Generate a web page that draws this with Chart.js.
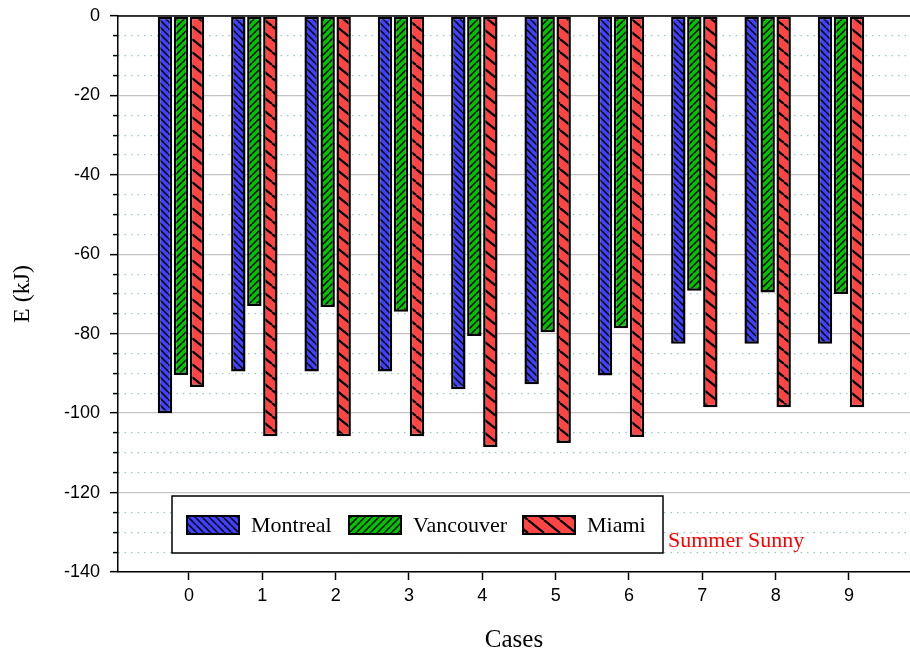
<!DOCTYPE html>
<html>
<head>
<meta charset="utf-8">
<script src="https://cdn.jsdelivr.net/npm/chart.js@4.4.1/dist/chart.umd.min.js"></script>
<style>
  html, body { margin: 0; padding: 0; background: #fff; }
</style>
</head>
<body>
<canvas id="myChart" width="910" height="657"></canvas>
<script>
var cases = [0, 1, 2, 3, 4, 5, 6, 7, 8, 9];
var montreal = [-100, -89.5, -89.5, -89.5, -94, -92.7, -90.5, -82.5, -82.5, -82.5];
var vancouver = [-90.4, -73, -73.3, -74.5, -80.6, -79.6, -78.6, -69.2, -69.6, -70];
var miami = [-93.4, -105.8, -105.8, -105.8, -108.5, -107.5, -106, -98.5, -98.5, -98.5];
var seriesNames = ['Montreal', 'Vancouver', 'Miami'];
var yTicks = [0, -20, -40, -60, -80, -100, -120, -140];

var canvas = document.getElementById('myChart');
var ctx = canvas.getContext('2d');

// hatched fills, like the origin-style bars
function makePattern(fill, w, h, dir, lw) {
    var c = document.createElement('canvas');
    c.width = w;
    c.height = h;
    var g = c.getContext('2d');
    g.fillStyle = fill;
    g.fillRect(0, 0, w, h);
    g.strokeStyle = '#000';
    g.lineWidth = lw;
    g.beginPath();
    for (var k = -1; k <= 1; k++) {
        if (dir === 'back') {
            g.moveTo(k * w, 0);
            g.lineTo(k * w + w, h);
        } else {
            g.moveTo(k * w, h);
            g.lineTo(k * w + w, 0);
        }
    }
    g.stroke();
    return ctx.createPattern(c, 'repeat');
}

var patterns = [
    makePattern('#4040ff', 7, 7, 'back', 1.5),
    makePattern('#00c400', 7, 7, 'fwd', 1.5),
    makePattern('#ff4444', 16, 13, 'back', 2.2)
];

function points(vals) {
    return cases.map(function (c, i) { return { x: c, y: vals[i] }; });
}

var series = [montreal, vancouver, miami];
var datasets = series.map(function (vals, i) {
    return {
        label: seriesNames[i],
        data: points(vals),
        backgroundColor: patterns[i],
        borderColor: '#000',
        borderWidth: 2.5,
        borderSkipped: false,
        xAxisID: 'x',
        yAxisID: 'y',
        categoryPercentage: 0.655,
        barPercentage: 0.9
    };
});

var frameAndLegend = {
    id: 'frameAndLegend',
    afterDraw: function (chart) {
        var c = chart.ctx;
        var a = chart.chartArea;
        c.save();
        // top frame line
        c.strokeStyle = '#000';
        c.lineWidth = 1.5;
        c.beginPath();
        c.moveTo(a.left, a.top);
        c.lineTo(a.right, a.top);
        c.stroke();

        // legend box
        var bx = 172, by = 496, bw = 491, bh = 57;
        c.fillStyle = '#fff';
        c.fillRect(bx, by, bw, bh);
        c.lineWidth = 1.5;
        c.strokeRect(bx, by, bw, bh);

        var swatchX = [187, 349, 523];
        c.font = '22px "Liberation Serif"';
        c.textBaseline = 'middle';
        c.textAlign = 'left';
        chart.data.datasets.forEach(function (ds, i) {
            c.fillStyle = ds.backgroundColor;
            c.fillRect(swatchX[i], 516, 52, 18);
            c.lineWidth = 2;
            c.strokeStyle = '#000';
            c.strokeRect(swatchX[i], 516, 52, 18);
            c.fillStyle = '#000';
            c.fillText(ds.label, swatchX[i] + 64, 526);
        });

        c.fillStyle = '#ff0000';
        c.textBaseline = 'alphabetic';
        c.fillText('Summer Sunny', 668, 547);
        c.restore();
    }
};

var myChart = new Chart(ctx, {
    type: 'bar',
    data: { datasets: datasets },
    options: {
        responsive: false,
        animation: false,
        layout: { padding: { top: 16, left: 0, right: 0, bottom: 0 } },
        plugins: {
            legend: { display: false },
            tooltip: { enabled: false }
        },
        scales: {
            x: {
                type: 'linear',
                display: false,
                offset: false,
                grid: { offset: false },
                min: -0.859,
                max: 9.941,
                ticks: { stepSize: 1, includeBounds: false }
            },
            xt: {
                type: 'linear',
                position: 'bottom',
                offset: false,
                min: -0.968,
                max: 9.832,
                ticks: {
                    stepSize: 1,
                    includeBounds: false,
                    color: '#000',
                    padding: 5,
                    font: { family: 'Liberation Sans', size: 18 }
                },
                grid: {
                    offset: false,
                    drawOnChartArea: false,
                    tickLength: 8,
                    tickColor: '#000',
                    tickWidth: 1.5
                },
                border: { color: '#000', width: 1.5 },
                title: {
                    display: true,
                    text: 'Cases',
                    color: '#000',
                    font: { family: 'Liberation Serif', size: 25 },
                    padding: { top: 0, bottom: 2 }
                },
                afterFit: function (s) { s.height = 85; }
            },
            y: {
                type: 'linear',
                position: 'left',
                weight: 0,
                min: -140,
                max: 0,
                afterBuildTicks: function (s) {
                    s.ticks = yTicks.map(function (v) { return { value: v }; });
                },
                ticks: {
                    color: '#000',
                    padding: 10,
                    font: { family: 'Liberation Sans', size: 18 }
                },
                grid: {
                    color: '#c4c4c4',
                    lineWidth: 1.3,
                    tickLength: 8,
                    tickColor: '#000',
                    tickWidth: 1.5
                },
                border: { color: '#000', width: 1.5 },
                title: {
                    display: true,
                    text: 'E (kJ)',
                    color: '#000',
                    font: { family: 'Liberation Serif', size: 24 },
                    padding: { top: 8, bottom: 0 }
                },
                afterFit: function (s) {
                    s.width = 118;
                    s.paddingTop = 10;
                }
            },
            yMinor: {
                type: 'linear',
                position: 'left',
                weight: -1,
                min: -140,
                max: 0,
                ticks: { stepSize: 5, display: false },
                grid: {
                    color: function (c) {
                        return c.tick && c.tick.value % 20 !== 0 ? '#9ccaca' : 'rgba(0,0,0,0)';
                    },
                    lineWidth: 1.2,
                    tickLength: 5,
                    tickColor: function (c) {
                        return c.tick && c.tick.value % 20 !== 0 ? '#000' : 'rgba(0,0,0,0)';
                    },
                    tickWidth: 1.5
                },
                border: { display: false, dash: [1.5, 5] },
                afterFit: function (s) { s.width = 0; }
            }
        }
    },
    plugins: [frameAndLegend]
});
</script>
</body>
</html>
